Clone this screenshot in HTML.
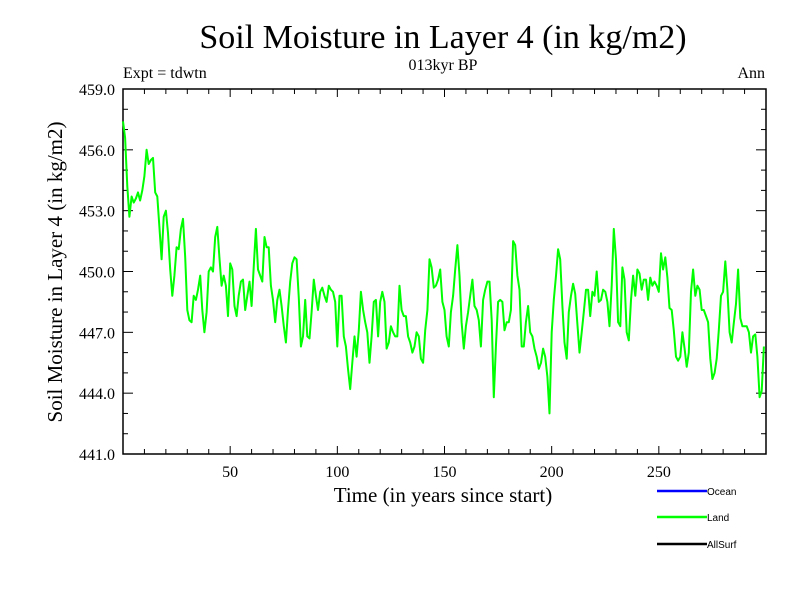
<!DOCTYPE html>
<html><head><meta charset="utf-8"><style>
body{margin:0;background:#fff;}
svg{display:block;font-family:"Liberation Serif",serif;}
</style></head><body>
<svg id="chart" width="800" height="600">
<text x="443" y="48" font-size="34" text-anchor="middle">Soil Moisture in Layer 4 (in kg/m2)</text>
<text x="443" y="70" font-size="16" text-anchor="middle">013kyr BP</text>
<text x="123" y="78" font-size="16">Expt = tdwtn</text>
<text x="765" y="78" font-size="16" text-anchor="end">Ann</text>
<text x="443" y="502" font-size="21" text-anchor="middle">Time (in years since start)</text>
<text transform="translate(62,272) rotate(-90)" font-size="21" text-anchor="middle">Soil Moisture in Layer 4 (in kg/m2)</text>
<g id="axes"></g>
<g id="series"></g>
<g font-family="Liberation Sans, sans-serif" font-size="10">
<g><line x1="657" y1="491" x2="707" y2="491" stroke="#0000ff" stroke-width="2.5"/><text x="707" y="495">Ocean</text></g>
<g><line x1="657" y1="517" x2="707" y2="517" stroke="#00ff00" stroke-width="2.5"/><text x="707" y="521">Land</text></g>
<g><line x1="657" y1="544" x2="707" y2="544" stroke="#000" stroke-width="2.5"/><text x="707" y="548">AllSurf</text></g>
</g>
</svg>
<script>
const xTicks=[50,100,150,200,250];
const yTicks=[441,444,447,450,453,456,459];
const landValues=[457.4,456.6,454.2,452.7,453.7,453.4,453.6,453.9,453.5,454.0,454.7,456.0,455.3,455.5,455.6,453.9,453.7,452.2,450.6,452.7,453.0,451.9,450.1,448.8,449.8,451.2,451.1,452.1,452.6,450.7,448.1,447.6,447.5,448.8,448.6,449.1,449.8,448.1,447.0,448.0,450.0,450.2,450.0,451.7,452.2,450.7,449.3,449.8,449.3,447.8,450.4,450.1,448.3,447.8,448.8,449.5,449.6,448.1,448.8,449.5,448.3,450.2,452.1,450.1,449.8,449.5,451.7,451.2,451.2,449.3,448.6,447.5,448.6,449.1,448.3,447.3,446.5,448.1,449.5,450.4,450.7,450.6,448.7,446.3,446.8,448.6,446.8,446.7,448.0,449.6,448.8,448.1,449.0,449.2,448.8,448.5,449.3,449.1,449.0,448.5,446.3,448.8,448.8,446.8,446.3,445.2,444.2,445.5,446.8,445.8,447.1,449.0,448.1,447.5,447.0,445.5,446.8,448.5,448.6,446.8,448.5,449.0,448.5,446.2,446.5,447.3,447.0,446.8,446.8,449.3,448.1,447.8,447.8,446.8,446.5,446.0,446.3,447.0,446.8,445.7,445.5,447.1,448.1,450.6,450.2,449.2,449.3,449.6,450.1,448.5,448.1,446.8,446.3,448.0,448.8,450.1,451.3,449.8,447.5,446.2,447.3,448.0,448.8,449.6,448.3,448.1,447.6,446.3,448.6,449.1,449.5,449.5,447.6,443.8,446.3,448.5,448.6,448.5,447.1,447.5,447.5,448.1,451.5,451.3,449.8,449.1,446.3,446.3,447.5,448.3,447.0,446.8,446.2,445.8,445.2,445.5,446.2,445.8,444.8,443.0,447.0,448.6,449.8,451.1,450.6,448.3,446.5,445.7,448.0,448.8,449.4,448.9,447.4,446.0,447.0,448.0,449.1,449.1,447.8,449.0,448.8,450.0,448.5,448.6,449.1,449.0,448.5,447.3,449.3,452.1,450.6,447.5,447.3,450.2,449.6,447.0,446.6,448.6,449.8,448.8,450.1,449.9,449.1,449.6,449.6,448.6,449.7,449.3,449.5,449.3,449.0,450.9,450.1,450.7,449.7,448.2,448.1,447.1,445.8,445.6,445.8,447.0,446.2,445.3,446.0,449.0,450.1,448.8,449.3,449.1,448.1,448.1,447.8,447.5,445.7,444.7,445.0,445.7,447.1,448.8,449.0,450.5,449.1,447.0,446.5,447.5,448.4,450.1,447.7,447.3,447.3,447.3,447.0,446.0,446.8,446.9,445.8,443.8,444.1,446.3];
const X0=123,X1=766,Y0=89,Y1=454;
const xMin=0,xMax=300,yMin=441,yMax=459;
function sx(v){return X0+(v-xMin)/(xMax-xMin)*(X1-X0);}
function sy(v){return Y1-(v-yMin)/(yMax-yMin)*(Y1-Y0);}
const NS="http://www.w3.org/2000/svg";
const axes=document.getElementById('axes');
function mk(tag,attrs,parent){const e=document.createElementNS(NS,tag);for(const k in attrs)e.setAttribute(k,attrs[k]);parent.appendChild(e);return e;}
const frame=mk('rect',{x:X0,y:Y0,width:X1-X0,height:Y1-Y0,fill:'none',stroke:'#000','stroke-width':1.5},axes);


for(let t=10;t<xMax;t+=10){
  const major=t%50===0, L=major?8:5, x=sx(t);
  const a=mk('line',{x1:x,y1:Y1,x2:x,y2:Y1-L,stroke:'#000','stroke-width':1},axes);
  
  
  const b=mk('line',{x1:x,y1:Y0,x2:x,y2:Y0+L,stroke:'#000','stroke-width':1},axes);
  
  
}
xTicks.forEach(t=>{
  const tx=mk('text',{x:sx(t),y:Y1+23,'font-size':16,'text-anchor':'middle'},axes);tx.textContent=t;
  
  
});
for(let v=yMin+1;v<yMax;v+=1){
  const major=(v-yMin)%3===0, L=major?10:5, y=sy(v);
  const a=mk('line',{x1:X0,y1:y,x2:X0+L,y2:y,stroke:'#000','stroke-width':1},axes);
  
  
  const b=mk('line',{x1:X1,y1:y,x2:X1-L,y2:y,stroke:'#000','stroke-width':1},axes);
  
  
}
yTicks.forEach(v=>{
  const tx=mk('text',{x:X0-8,y:sy(v)+6,'font-size':16,'text-anchor':'end'},axes);tx.textContent=v.toFixed(1);
  
  
});
const pts=landValues.map((v,i)=>sx(i).toFixed(1)+','+sy(v).toFixed(1)).join(' ');
const line=mk('polyline',{points:pts,fill:'none',stroke:'#00ff00','stroke-width':2,'stroke-linejoin':'round'},document.getElementById('series'));


</script>
</body></html>
